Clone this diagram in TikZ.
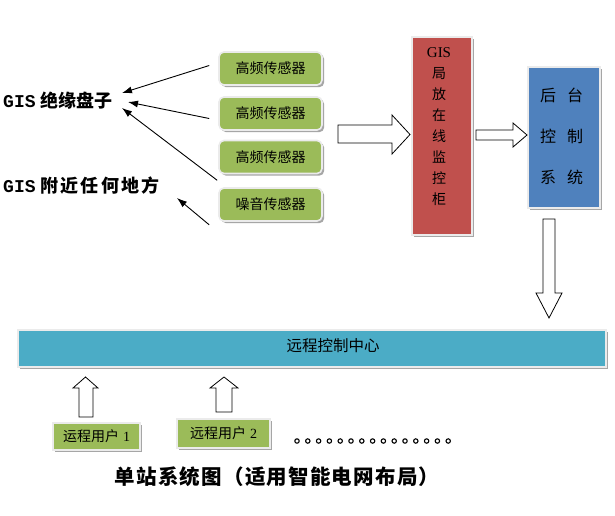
\documentclass[tikz,border=0pt]{standalone}
\usepackage{fontspec}
\setmainfont{Liberation Serif}
\newfontfamily\cjk{Noto Sans CJK SC}
\newfontfamily\cjkwide[LetterSpace=12]{Noto Sans CJK SC}
\newfontfamily\cjkcap[LetterSpace=6]{Noto Sans CJK SC}
\newfontfamily\gismono{Liberation Mono}
\usetikzlibrary{shadows,arrows.meta,calc}
\definecolor{sgreen}{HTML}{9BBB59}
\definecolor{sred}{HTML}{C0504D}
\definecolor{sblue}{HTML}{4F81BD}
\definecolor{steal}{HTML}{4BACC6}
\tikzset{
  boxbase/.style={draw=white!92!black, line width=1.6pt, inner sep=0pt, align=center,
    drop shadow={shadow xshift=2.2pt, shadow yshift=-2.2pt, fill=black!35, opacity=1}},
  sensor/.style={boxbase, fill=sgreen, rounded corners=5pt, minimum width=103pt, minimum height=33pt,
    font=\cjk\fontsize{14}{16}\selectfont},
  userbox/.style={boxbase, fill=sgreen, font=\cjk\fontsize{14}{16}\selectfont},
  lbl/.style={inner sep=0pt, anchor=west, font=\bfseries\fontsize{18}{20}\selectfont},
  sig/.style={-{Latex[length=10pt,width=7pt]}, line width=0.9pt, black},
  block/.style={draw=black, line width=0.8pt, fill=white, line join=miter}
}
\begin{document}
\begin{tikzpicture}[x=1pt,y=-1pt]
\useasboundingbox (0,0) rectangle (615,515);
\fill[white] (0,0) rectangle (615,515);

% sensor boxes
\node[sensor] (s1) at (270.5,68.5) {高频传感器};
\node[sensor] (s2) at (270.5,113.5) {高频传感器};
\node[sensor] (s3) at (270.5,157) {高频传感器};
\node[sensor] (s4) at (270.5,204.5) {噪音传感器};

% left labels
\node[lbl] (l1) at (3,101) {{\gismono\bfseries GIS}\hspace{5pt}{\cjk\bfseries 绝缘盘子}};
\node[lbl] (l2) at (3,186) {{\gismono\bfseries GIS}\hspace{5pt}{\cjkwide\bfseries 附近任何地方}};

\coordinate (t1) at (122,93);
\coordinate (t2) at (128,102);
\coordinate (t3) at (122,108);
\coordinate (t4) at (177,198);
\draw[sig] ([xshift=-9pt,yshift=3pt]s1.west) -- (t1);
\draw[sig] ([xshift=-9pt,yshift=-5pt]s2.west) -- (t2);
\draw[sig] ([xshift=-1pt,yshift=-6pt]s3.south west) -- (t3);
\draw[sig] ([xshift=-9pt,yshift=-3pt]s4.south west) -- (t4);

% red cabinet
\node[boxbase, fill=sred, minimum width=60pt, minimum height=198pt] (red) at (442,136) {};
\node[inner sep=0pt, align=center, font=\cjk\fontsize{14}{21}\selectfont] (redt) at (439,127)
  {{\rmfamily\fontsize{15}{21}\selectfont GIS}\\局\\放\\在\\线\\监\\控\\柜};

% blue backend
\node[boxbase, fill=sblue, minimum width=72pt, minimum height=141pt] (blue) at (564,137.5) {};
\node[inner sep=0pt, align=center, font=\cjk\fontsize{16}{41}\selectfont] (bluet) at (561.5,136)
  {后\hspace{11pt}台\\控\hspace{11pt}制\\系\hspace{11pt}统};

% remote control centre bar
\node[boxbase, fill=steal, minimum width=588pt, minimum height=37pt] (bar) at (312,348.5) {};
\node[inner sep=0pt, font=\cjk\fontsize{15.5}{17}\selectfont] (bart) at (333,346) {远程控制中心};

% users
\node[userbox, minimum width=87pt, minimum height=27pt] (u1) at (96.5,436.5)
  {运程用户\hspace{4pt}{\rmfamily 1}};
\node[userbox, minimum width=93pt, minimum height=29pt] (u2) at (223.5,433.5)
  {远程用户\hspace{4pt}{\rmfamily 2}};

% block arrows
\draw[block] (338,125) -- (392,125) -- (392,115) -- (410,134.5) -- (392,154) -- (392,143) -- (338,143) -- cycle;
\draw[block] (476,130) -- (513,130) -- (513,123) -- (527,135) -- (513,147) -- (513,140) -- (476,140) -- cycle;
\draw[block] (543,219) -- (555,219) -- (555,293) -- (562,293) -- (549,318) -- (536,293) -- (543,293) -- cycle;
\draw[block] (79,417) -- (79,388) -- (73,388) -- (85.5,377) -- (98,388) -- (93,388) -- (93,417) -- cycle;
\draw[block] (216,412) -- (216,388) -- (210,388) -- (224,377) -- (238,388) -- (232,388) -- (232,412) -- cycle;

% dots
\foreach \i in {0,...,14} {
  \draw[line width=1.1pt] (297+\i*10.8,441) circle[radius=2.2pt];
}

% caption
\node[inner sep=0pt, font=\cjkcap\bfseries\fontsize{20.5}{22}\selectfont] (cap) at (277,477)
  {单站系统图（适用智能电网布局）};
\end{tikzpicture}
\end{document}
